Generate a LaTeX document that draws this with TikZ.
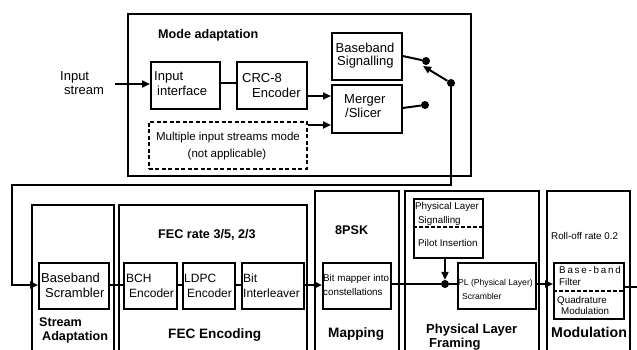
\documentclass[tikz,border=0pt]{standalone}
\usepackage{fontspec}
\setmainfont{Liberation Sans}
\usetikzlibrary{arrows.meta}
\begin{document}
\begin{tikzpicture}[x=1pt,y=-1pt,
  box/.style={draw, line width=1.6pt, inner sep=0pt, anchor=north west},
  dbox/.style={box, dash pattern=on 4pt off 2.5pt},
  frame/.style={line width=1.8pt},
  conn/.style={line width=2pt},
  arr/.style={conn, -{Triangle[length=8pt,width=7pt]}},
  dot/.style={circle, fill, inner sep=0pt, minimum size=8pt},
  dline/.style={line width=1.5pt, dash pattern=on 4pt off 2pt},
  t/.style={inner sep=0pt, anchor=base west},
  tc/.style={inner sep=0pt, anchor=base},
  fA/.style={font=\fontsize{13}{15}\selectfont},
  fB/.style={font=\fontsize{12}{14}\selectfont},
  fM/.style={font=\fontsize{11.5}{13}\selectfont},
  fS/.style={font=\fontsize{9.8}{12}\selectfont},
  fX/.style={font=\fontsize{8.6}{10}\selectfont},
  bA/.style={font=\fontsize{12.6}{14}\selectfont\bfseries},
  bL/.style={font=\fontsize{13.6}{15}\selectfont\bfseries},
  bF/.style={font=\fontsize{13}{14}\selectfont\bfseries},
]
\useasboundingbox (0,0) rectangle (637,349);

% ---------------- Mode adaptation ----------------
\node[box, minimum width=343pt, minimum height=162pt] (mode) at (127,13) {};
\node[t, bA] (modet) at (158,38.5) {Mode adaptation};

\node[t, fA] (ist1) at (60,80) {Input};
\node[t, fA] (ist2) at (64,94) {stream};

\node[box, minimum width=69pt, minimum height=47pt] (inif) at (150,61) {};
\node[t, fA] (inift1) at (154,80) {Input};
\node[t, fA] (inift2) at (157,95) {interface};

\node[box, minimum width=70pt, minimum height=47pt] (crc) at (236,61) {};
\node[t, fA] (crct1) at (242,82.6) {CRC-8};
\node[t, fA] (crct2) at (252,97) {Encoder};

\node[dbox, minimum width=158pt, minimum height=47pt] (multi) at (148,121) {};
\node[tc, fM] (multit1) at (228,140) {Multiple input streams mode};
\node[tc, fM] (multit2) at (227,157) {(not applicable)};

\node[box, minimum width=70pt, minimum height=47pt] (bs) at (331,32) {};
\node[tc, fA] (bst1) at (365,52.6) {Baseband};
\node[t, fA] (bst2) at (337,65.7) {Signalling};

\node[box, minimum width=70pt, minimum height=48pt] (merg) at (331,84) {};
\node[t, fA] (mergt1) at (344,103) {Merger};
\node[t, fA] (mergt2) at (345,117) {/Slicer};

\node[dot] (d1) at (426,61) {};
\node[dot] (d2) at (425,105) {};
\node[dot] (pivot) at (451,83) {};
\coordinate (swtip) at (423,66);

\coordinate (inp) at (115,84);
\draw[arr] (inp) -- (inif.west |- inp);
\draw[conn] (inif.east |- 0,83) -- (crc.west |- 0,83);
\draw[arr] (crc.east |- 0,96) -- (merg.west |- 0,96);
\draw[arr] (multi.east |- 0,125) -- (merg.west |- 0,125);
\draw[conn] (bs.east |- 0,56) -- (d1);
\draw[conn] (merg.east |- 0,108) -- (d2);
\draw[arr] (pivot) -- (swtip);

% ---------------- section frames ----------------
\draw[frame] (32,352) |- (114,205) -- (114,352);
\draw[frame] (119,352) |- (307,205) -- (307,352);
\draw[frame] (315,352) |- (399,191) -- (399,352);
\draw[frame] (405,352) |- (539,191) -- (539,352);
\draw[frame] (547,352) |- (630,191) -- (630,352);

\node[t, bA] (sat1) at (39,326.7) {Stream};
\node[t, bA] (sat2) at (42,340) {Adaptation};
\node[t, bA] (fect) at (158,238.3) {FEC rate 3/5, 2/3};
\node[t, bL] (fece) at (168,338) {FEC Encoding};
\node[t, bA] (psk) at (335,234.3) {8PSK};
\node[t, bL] (mapt) at (328,337.7) {Mapping};
\node[t, bF] (plf1) at (426,333.5) {Physical Layer};
\node[t, bF] (plf2) at (429,347) {Framing};
\node[t, fS] (roll) at (551,239) {Roll-off rate 0.2};
\node[t, font=\fontsize{14.2}{16}\selectfont\bfseries] (modt) at (551,337.3) {Modulation};

% ---------------- inner blocks ----------------
\node[box, minimum width=70pt, minimum height=46pt] (scr) at (38,262) {};
\node[t, fA] (scrt1) at (41,282.3) {Baseband};
\node[t, fA] (scrt2) at (45,297.3) {Scrambler};

\node[box, minimum width=53pt, minimum height=46pt] (bch) at (123,262) {};
\node[t, fB] (bcht1) at (126,282) {BCH};
\node[t, fB] (bcht2) at (129,297) {Encoder};

\node[box, minimum width=52pt, minimum height=46pt] (ldpc) at (182,262) {};
\node[t, fB] (ldpct1) at (184,282) {LDPC};
\node[t, fB] (ldpct2) at (187,297) {Encoder};

\node[box, minimum width=62pt, minimum height=46pt] (bil) at (241,262) {};
\node[t, fB] (bilt1) at (243,282) {Bit};
\node[t, fB] (bilt2) at (243,297) {Interleaver};

\node[box, minimum width=68pt, minimum height=46pt] (mapr) at (322,262) {};
\node[t, fS] (maprt1) at (323,281.7) {Bit mapper into};
\node[t, fS] (maprt2) at (323,295.7) {constellations};

\node[box, minimum width=69pt, minimum height=59pt] (pls) at (413,198) {};
\coordinate (plsd) at (0,227);
\draw[dline] (pls.west |- plsd) -- (pls.east |- plsd);
\node[t, fS] (plst1) at (415,209) {Physical Layer};
\node[t, fS] (plst2) at (418,223) {Signalling};
\node[t, fS] (plst3) at (418,246) {Pilot Insertion};

\node[box, minimum width=78pt, minimum height=46pt] (plscr) at (457,262) {};
\node[t, fX] (plscrt1) at (458,285) {PL (Physical Layer)};
\node[t, fX] (plscrt2) at (462,299) {Scrambler};

\node[box, minimum width=70pt, minimum height=56pt] (filt) at (553,262) {};
\coordinate (filtd) at (0,291);
\draw[dline] (filt.west |- filtd) -- (filt.east |- filtd);
\node[t, fS] (filtt1) at (559,273.3) {\addfontfeatures{LetterSpace=18}Base-band};
\node[t, fS] (filtt2) at (559,285) {Filter};
\node[t, fS] (filtt3) at (557,303) {Quadrature};
\node[t, fS] (filtt4) at (561,314) {Modulation};

\node[dot] (junc) at (445,284) {};

% ---------------- connectors ----------------
\coordinate (mainl) at (0,285);
\coordinate (lc) at (12,185);
\coordinate (outp) at (637,287);
\draw[arr] (pivot) -- (pivot |- lc) -- (lc) -- (lc |- mainl) -- (scr.west |- mainl);
\draw[conn] (scr.east |- mainl) -- (bch.west |- mainl);
\draw[conn] (bch.east |- mainl) -- (ldpc.west |- mainl);
\draw[conn] (ldpc.east |- mainl) -- (bil.west |- mainl);
\draw[arr] (bil.east |- mainl) -- (mapr.west |- mainl);
\draw[conn] (mapr.east |- junc) -- (junc);
\draw[conn] (junc) -- (plscr.west |- junc);
\draw[arr] (pls.south -| junc) -- (junc);
\draw[arr] (plscr.east |- junc) -- (filt.west |- junc);
\draw[conn] (filt.east |- outp) -- (outp);
\end{tikzpicture}
\end{document}
